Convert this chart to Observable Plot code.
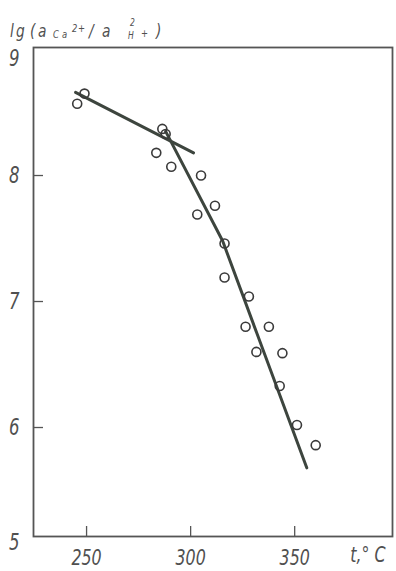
<!DOCTYPE html>
<html>
<head>
<meta charset="utf-8">
<script src="https://cdn.jsdelivr.net/npm/d3@7"></script>
<script src="https://cdn.jsdelivr.net/npm/@observablehq/plot@0.6"></script>
<style>
  body { margin: 0; background: #fff; }
  #chart { position: relative; width: 396px; height: 571px; }
  #chart svg.title { position: absolute; left: 0; top: 0; }
</style>
</head>
<body>
<div id="chart"></div>
<script>
// Measured points: temperature (°C) and lg(a Ca2+ / a² H+)
const temperature = [245.5, 249.0, 286.4, 288.0, 283.5, 290.7, 305.0, 311.7, 303.2, 316.3, 316.3, 328.0, 326.4, 337.6, 331.6, 344.1, 342.8, 351.1, 360.1];
const logRatio    = [8.57, 8.65, 8.37, 8.33, 8.18, 8.07, 8.00, 7.76, 7.69, 7.46, 7.19, 7.04, 6.80, 6.80, 6.60, 6.59, 6.33, 6.02, 5.86];

// Hand-fitted trend lines: low-temperature branch and high-temperature branch
const lowFitT  = [244.7, 301.4];
const lowFitY  = [8.66, 8.18];
const highFitT = [288.0, 315.4, 355.8];
const highFitY = [8.35, 7.48, 5.68];

// Axis ticks
const xTicks = [250, 300, 350];
const yTicks = [6, 7, 8];
const yTop = 9;
const yBottom = 5;
const xUnit = "t,° C";

const points = temperature.map((t, i) => ({t, v: logRatio[i]}));
const lowFit = lowFitT.map((t, i) => ({t, v: lowFitY[i]}));
const highFit = highFitT.map((t, i) => ({t, v: highFitY[i]}));

const W = 396, H = 571;
const mL = 33, mR = 4, mT = 47, mB = 35;
const frameW = W - mL - mR, frameH = H - mT - mB;

const font = '"DejaVu Sans Condensed", "DejaVu Sans", sans-serif';
const ink = "#505050";
const lineInk = "#3d453e";
const fmt = d3.format("d");

const plot = Plot.plot({
  width: W,
  height: H,
  marginLeft: mL, marginRight: mR, marginTop: mT, marginBottom: mB,
  x: {domain: [224.5, 397]},
  y: {domain: [5.135, 9.016]},
  style: {fontFamily: font, fontStyle: "italic", fontStretch: "condensed", color: ink, background: "#fff", overflow: "visible"},
  marks: [
    Plot.frame({stroke: "#555", strokeWidth: 1.8}),
    // inward tick marks
    Plot.tickX(xTicks, {x: d => d, insetTop: frameH - 10, stroke: "#555", strokeWidth: 1.3}),
    Plot.tickY(yTicks, {y: d => d, insetRight: frameW - 10, stroke: "#555", strokeWidth: 1.3}),
    Plot.axisX({ticks: xTicks, tickSize: 0, tickPadding: 13, tickFormat: fmt, fontSize: 22, label: null, fill: ink}),
    Plot.axisY({ticks: yTicks, tickSize: 0, tickPadding: 14, tickFormat: fmt, fontSize: 23, label: null, fill: ink}),
    Plot.text([yTop], {y: d => d, text: d => fmt(d), frameAnchor: "left", dx: -14, dy: 9, textAnchor: "end", fontSize: 23, fill: ink}),
    Plot.text([yBottom], {y: d => d, text: d => fmt(d), frameAnchor: "left", dx: -14, dy: -11, textAnchor: "end", fontSize: 23, fill: ink}),
    Plot.text([xUnit], {text: d => d, frameAnchor: "bottom-right", dx: -7, dy: 25, textAnchor: "end", fontSize: 22, fill: ink}),
    // trend lines
    Plot.line(lowFit, {x: "t", y: "v", stroke: lineInk, strokeWidth: 3}),
    Plot.line(highFit, {x: "t", y: "v", stroke: lineInk, strokeWidth: 3, strokeLinejoin: "round"}),
    // measured points
    Plot.dot(points, {x: "t", y: "v", r: 4.5, stroke: "#3a3a3a", strokeWidth: 1.6, fill: "none"})
  ]
});

// Squeeze the lettering horizontally for a narrow drafting-style face
function narrow(svg, k) {
  svg.querySelectorAll("text").forEach(t => {
    const tr = t.getAttribute("transform");
    if (tr) {
      t.setAttribute("transform", `${tr} scale(${k},1)`);
    } else {
      const x = +t.getAttribute("x") || 0, y = +t.getAttribute("y") || 0;
      t.removeAttribute("x"); t.removeAttribute("y");
      t.setAttribute("transform", `translate(${x},${y}) scale(${k},1)`);
    }
  });
}
narrow(plot, 0.8);

const chart = document.getElementById("chart");
chart.appendChild(plot);

// Axis title: lg(a_Ca2+ / a²_H+)
const title = d3.create("svg")
  .attr("class", "title")
  .attr("width", 200).attr("height", 46)
  .style("font-family", font).style("font-style", "italic").style("font-stretch", "condensed")
  .attr("fill", ink);
const pieces = [
  {text: "l",  x: 10,  y: 37, size: 18},
  {text: "g",  x: 16,  y: 37, size: 18},
  {text: "(",  x: 30,  y: 37, size: 18},
  {text: "a",  x: 38,  y: 37, size: 18},
  {text: "C",  x: 53,  y: 38, size: 11},
  {text: "a",  x: 62,  y: 38, size: 11},
  {text: "2",  x: 72,  y: 32, size: 11},
  {text: "+",  x: 78,  y: 32, size: 11},
  {text: "/",  x: 89,  y: 37, size: 18},
  {text: "a",  x: 102, y: 37, size: 18},
  {text: "2",  x: 130, y: 26, size: 10},
  {text: "H",  x: 128, y: 39, size: 10},
  {text: "+",  x: 141, y: 37, size: 11},
  {text: ")",  x: 156, y: 37, size: 18}
];
title.selectAll("text").data(pieces).join("text")
  .attr("transform", d => `translate(${d.x},${d.y}) scale(0.85,1)`)
  .attr("font-size", d => d.size)
  .text(d => d.text);
chart.appendChild(title.node());
</script>
</body>
</html>
